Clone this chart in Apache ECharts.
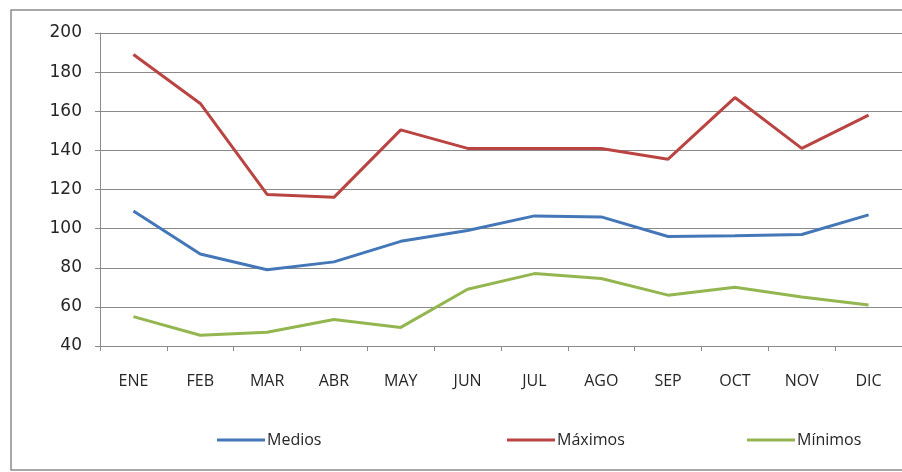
<!DOCTYPE html>
<html>
<head>
<meta charset="utf-8">
<script src="https://cdn.jsdelivr.net/npm/echarts@6/dist/echarts.min.js"></script>
<style>
  html, body { margin: 0; padding: 0; background: #fff; }
  #chart { width: 902px; height: 472px; }
</style>
</head>
<body>
<div id="chart"></div>
<script>
// Monthly values: average, maximum and minimum
const months = ['ENE', 'FEB', 'MAR', 'ABR', 'MAY', 'JUN', 'JUL', 'AGO', 'SEP', 'OCT', 'NOV', 'DIC'];
const medios = [109, 87, 79, 83, 93.5, 99, 106.5, 106, 96, 96.3, 97, 107];
const maximos = [189, 164, 117.5, 116, 150.5, 141, 141, 141, 135.5, 167, 141, 158];
const minimos = [55, 45.5, 47, 53.5, 49.5, 69, 77, 74.5, 66, 70, 65, 61];
const seriesNames = ['Medios', 'Máximos', 'Mínimos'];
const yTicks = { min: 40, max: 200, step: 20 };

const colors = ['#4477B8', '#B94442', '#94B650'];
const font = '"Open Sans", "Liberation Sans", sans-serif';
const gridColor = '#8a8a8a';
const textColor = '#262626';

const chart = echarts.init(document.getElementById('chart'), null, { renderer: 'canvas' });

function legendFor(name, left) {
  return {
    data: [name],
    left: left,
    top: 427,
    icon: 'rect',
    itemWidth: 48,
    itemHeight: 3,
    itemGap: 0,
    textStyle: { fontFamily: font, fontSize: 16, color: textColor, padding: [0, 0, 0, -3] }
  };
}

chart.setOption({
  animation: false,
  backgroundColor: '#ffffff',
  color: colors,
  graphic: [{
    type: 'rect',
    shape: { x: 11, y: 10, width: 920, height: 460 },
    style: { fill: 'none', stroke: '#8c8c8c', lineWidth: 1.5 },
    silent: true
  }],
  legend: [
    legendFor(seriesNames[0], 212),
    legendFor(seriesNames[1], 502),
    legendFor(seriesNames[2], 742)
  ],
  grid: { left: 100, top: 33, width: 807, height: 313 },
  xAxis: {
    type: 'category',
    data: months,
    boundaryGap: true,
    axisLine: { lineStyle: { color: gridColor, width: 1 } },
    axisTick: { show: true, inside: false, length: 5, interval: 0, lineStyle: { color: gridColor } },
    axisLabel: { interval: 0, margin: 27, fontFamily: font, fontSize: 16, color: textColor },
    splitLine: { show: false }
  },
  yAxis: {
    type: 'value',
    min: yTicks.min,
    max: yTicks.max,
    interval: yTicks.step,
    axisLine: { show: true, lineStyle: { color: gridColor, width: 1 } },
    axisTick: { show: true, inside: false, length: 5, lineStyle: { color: gridColor } },
    axisLabel: { margin: 18, fontFamily: '"DejaVu Sans", sans-serif', fontSize: 17, color: textColor },
    splitLine: { show: true, lineStyle: { color: gridColor, width: 1 } }
  },
  series: [
    { name: seriesNames[0], type: 'line', data: medios, showSymbol: false, lineStyle: { width: 3, color: colors[0] } },
    { name: seriesNames[1], type: 'line', data: maximos, showSymbol: false, lineStyle: { width: 3, color: colors[1] } },
    { name: seriesNames[2], type: 'line', data: minimos, showSymbol: false, lineStyle: { width: 3, color: colors[2] } }
  ]
});
</script>
</body>
</html>
